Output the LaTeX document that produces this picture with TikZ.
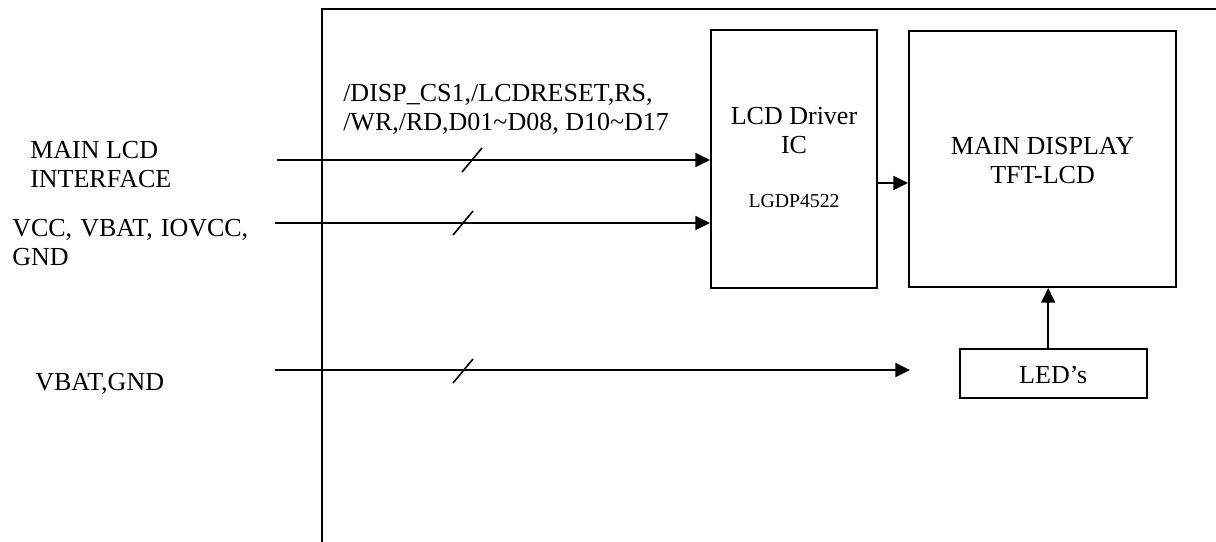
\documentclass[tikz,border=0pt]{standalone}
\usepackage{fontspec}
\setmainfont{Liberation Serif}
\usepackage{tikz}
\usetikzlibrary{arrows.meta,positioning,calc}

\begin{document}
\begin{tikzpicture}[
    x=0.75pt,y=-0.75pt,
    frame/.style={draw=black,line width=1.5pt},
    block/.style={draw=black,line width=1.5pt,inner sep=0pt},
    sig/.style={draw=black,line width=1.2pt,-{Triangle[length=11pt,width=10.5pt]}},
    busmark/.style={draw=black,line width=1.2pt},
    label/.style={font=\fontsize{19.5pt}{21.75pt}\selectfont,inner sep=0pt,align=left},
    small/.style={font=\fontsize{14.8pt}{17pt}\selectfont,inner sep=0pt}
]
\useasboundingbox (0,0) rectangle (1216,542);
\draw[frame] (322,542) -- (322,9) -- (1216,9);

\node[block,minimum width=124.5pt,minimum height=193.5pt] (driver) at (794,159) {};
\node[block,minimum width=200.25pt,minimum height=192pt,right=22.5pt of driver] (display) {};
\node[block,minimum width=140.25pt,minimum height=36.75pt,below=45pt of display,xshift=8pt] (leds) {};

\node[label,anchor=base,align=center] (drvtxt) at ([shift={(0,124)}]driver.north) {LCD Driver\\IC};
\node[small,anchor=base] (drvpart) at ([shift={(0,178)}]driver.north) {LGDP4522};
\node[label,anchor=base,align=center] (disptxt) at ([shift={(0,153)}]display.north) {MAIN DISPLAY\\TFT-LCD};
\node[label,anchor=base] (ledtxt) at ([shift={(0,10)}]leds.center) {LED's};

\node[label,anchor=base west] (lblbus) at (343,130) {/DISP\_CS1,/LCDRESET,RS,\\/WR,/RD,D01\textasciitilde D08, D10\textasciitilde D17};
\node[label,anchor=base west] (lblmain) at (30,187) {MAIN LCD\\INTERFACE};
\node[label,anchor=base west] (lblpwr) at (12,265) {\makebox[177pt][s]{VCC, VBAT, IOVCC,}\\GND};
\node[label,anchor=base west] (lblbat) at (35,390) {VBAT,GND};

\coordinate (in1) at (277,160);
\coordinate (in2) at (275,223);
\coordinate (in3) at (275,370);
\coordinate (tip3) at (910,370);

\draw[sig] (in1) -- (in1 -| driver.west);
\draw[sig] (in2) -- (in2 -| driver.west);
\draw[sig] (in3) -- (tip3);
\draw[sig] ([shift={(0,24)}]driver.east) -- ([shift={(0,24)}]driver.east -| display.west);
\draw[sig] ([shift={(-5,0)}]leds.north) -- ([shift={(-5,0)}]leds.north |- display.south);

\foreach \mx/\my in {472/160,463/223,463/371}
    \draw[busmark] (\mx-10,\my+12) -- (\mx+10,\my-12);
\end{tikzpicture}
\end{document}
